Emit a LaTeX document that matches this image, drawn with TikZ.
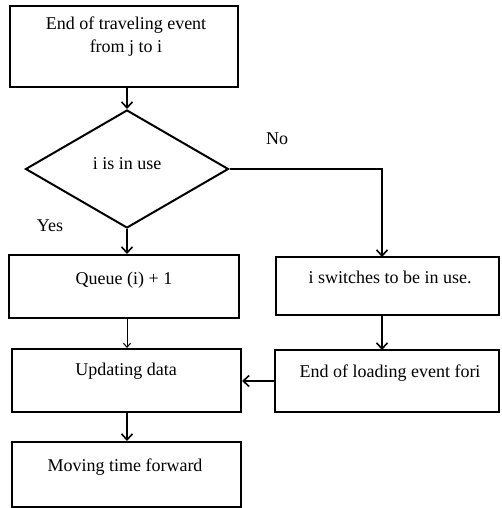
\documentclass[tikz,border=0pt]{standalone}
\usepackage{fontspec}
\setmainfont{Liberation Serif}
\usetikzlibrary{arrows.meta,shapes.geometric}
\begin{document}
\begin{tikzpicture}[x=1pt,y=-1pt,
  box/.style={draw, line width=2pt, inner sep=0pt, rectangle},
  conn/.style={line width=1.6pt, -{Straight Barb[length=6pt,width=11pt,line width=1.6pt]}},
  thinconn/.style={line width=1pt, -{Straight Barb[length=4pt,width=7pt,line width=1pt]}},
  txt/.style={font=\fontsize{18}{23}\selectfont, align=center, inner sep=0pt}]
\useasboundingbox (0,0) rectangle (501,508);
\fill[white] (0,0) rectangle (501,508);
% boxes
\node[box, minimum width=228pt, minimum height=81pt] (b1) at (124,46.5) {};
\node[diamond, draw, line width=2pt, inner sep=0pt, minimum width=203pt, minimum height=118pt] (d) at (127,169) {};
\node[box, minimum width=230pt, minimum height=63pt] (q) at (124,286.5) {};
\node[box, minimum width=223pt, minimum height=58pt] (s) at (387.5,286) {};
\node[box, minimum width=229pt, minimum height=63pt] (u) at (126.5,380.5) {};
\node[box, minimum width=224pt, minimum height=62pt] (l) at (387,381) {};
\node[box, minimum width=229pt, minimum height=65pt] (m) at (126.5,474.5) {};
% texts
\node[txt] (t1) at (126,36.5) {End of traveling event\\from j to i};
\node[txt] (t2) at (127,164) {i is in use};
\node[txt] (t3) at (124,280) {Queue (i) + 1};
\node[txt] (t4) at (390,277) {i switches to be in use.};
\node[txt] (t5) at (126,371) {Updating data};
\node[txt] (t6) at (390,373) {End of loading event fori};
\node[txt] (t7) at (125,467) {Moving time forward};
\node[txt] (no) at (277,139) {No};
\node[txt] (yes) at (50,226) {Yes};
% coordinates
\coordinate (sTop) at (382,257);
\coordinate (sBot) at (382,315);
\coordinate (lTop) at (382,350);
% connectors
\draw[conn] (d.north |- b1.south) -- (d.north);
\draw[conn] (d.south) -- (d.south |- q.north);
\draw[line width=1.6pt] (d.east) -| (382,200);
\draw[conn] (d.east) -| (sTop);
\draw[conn] (sBot) -- (lTop);
\draw[conn] (l.west) -- (l.west -| u.east);
\draw[thinconn] (d.south |- q.south) -- (d.south |- u.north);
\draw[conn] (d.south |- u.south) -- (d.south |- m.north);
\end{tikzpicture}
\end{document}
